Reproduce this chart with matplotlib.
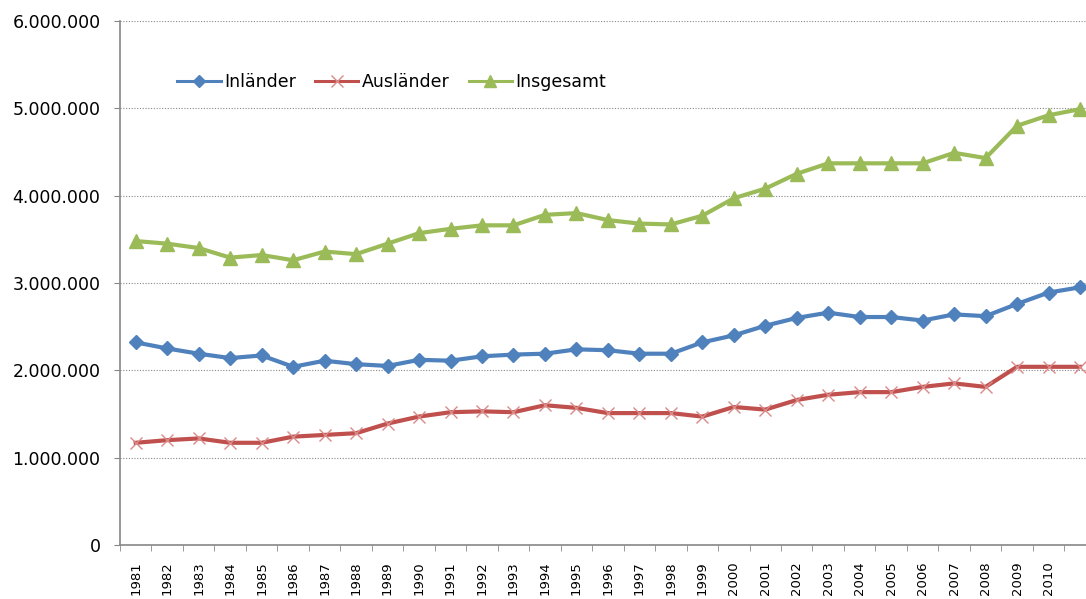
import matplotlib.pyplot as plt
import matplotlib.ticker as mticker
import numpy as np

plt.rcParams['font.family'] = ['DejaVu Sans']

years = list(range(1981, 2012))
# values in millions
inlaender = [2.32, 2.25, 2.19, 2.14, 2.17, 2.04, 2.11, 2.07, 2.05, 2.12,
             2.11, 2.16, 2.18, 2.19, 2.24, 2.23, 2.19, 2.19, 2.32, 2.40,
             2.51, 2.60, 2.66, 2.61, 2.61, 2.57, 2.64, 2.62, 2.76, 2.89, 2.95]
auslaender = [1.17, 1.20, 1.22, 1.17, 1.17, 1.24, 1.26, 1.28, 1.39, 1.47,
              1.52, 1.53, 1.52, 1.60, 1.57, 1.51, 1.51, 1.51, 1.47, 1.58,
              1.55, 1.66, 1.72, 1.75, 1.75, 1.81, 1.85, 1.81, 2.04, 2.04, 2.04]
insgesamt = [3.48, 3.45, 3.40, 3.29, 3.32, 3.26, 3.36, 3.33, 3.45, 3.57,
             3.62, 3.66, 3.66, 3.78, 3.80, 3.72, 3.68, 3.67, 3.77, 3.97,
             4.08, 4.25, 4.37, 4.37, 4.37, 4.37, 4.49, 4.43, 4.80, 4.92, 4.99]
tick_years = [str(y) for y in years[:-1]]  # 2011 label is cut off in the original

fig = plt.figure(figsize=(10.86, 5.99), dpi=100)
ax = fig.add_axes([0.1105, 0.0902, 0.8895, 0.8748])

x = np.arange(len(years))
scale = 1e6
ax.plot(x, np.array(inlaender) * scale, color='#4F81BD', lw=3, marker='D',
        markersize=7, label='Inländer', zorder=3)
ax.plot(x, np.array(auslaender) * scale, color='#C0504D', lw=3, marker='x',
        markersize=9, markeredgewidth=1, markeredgecolor='#D98A88',
        label='Ausländer', zorder=3)
ax.plot(x, np.array(insgesamt) * scale, color='#9BBB59', lw=3, marker='^',
        markersize=10, label='Insgesamt', zorder=3)

ax.set_xlim(-0.5, 30.19)
ax.set_ylim(0, 6e6)
ax.yaxis.set_major_locator(mticker.MultipleLocator(1e6))
ax.yaxis.set_major_formatter(mticker.FuncFormatter(
    lambda v, p: '{:,.0f}'.format(v).replace(',', '.')))
ax.grid(axis='y', color='#888888', linestyle=(0, (1, 1.5)), linewidth=0.8)
ax.set_axisbelow(True)

ax.set_xticks(x[:-1])
ax.set_xticklabels(tick_years, rotation=90, fontsize=9.5)
ax.set_xticks(np.arange(-0.5, 30.5, 1), minor=True)
ax.tick_params(axis='x', which='major', length=0, pad=12)
ax.tick_params(axis='x', which='minor', length=4, color='#888888')
ax.tick_params(axis='y', length=4, color='#888888', labelsize=12.5, pad=10)

for s in ['top', 'right']:
    ax.spines[s].set_visible(False)
for s in ['left', 'bottom']:
    ax.spines[s].set_color('#888888')
    ax.spines[s].set_linewidth(1.2)

leg = ax.legend(loc='upper left', bbox_to_anchor=(0.043, 0.93), ncol=3,
                frameon=False, fontsize=12.5, handlelength=2.5,
                columnspacing=1.1, handletextpad=0.2)
for h, ms in zip(leg.legend_handles, [6, 8, 8]):
    h.set_linewidth(2.2)
    h.set_markersize(ms)

fig.savefig('out.png', dpi=100)
